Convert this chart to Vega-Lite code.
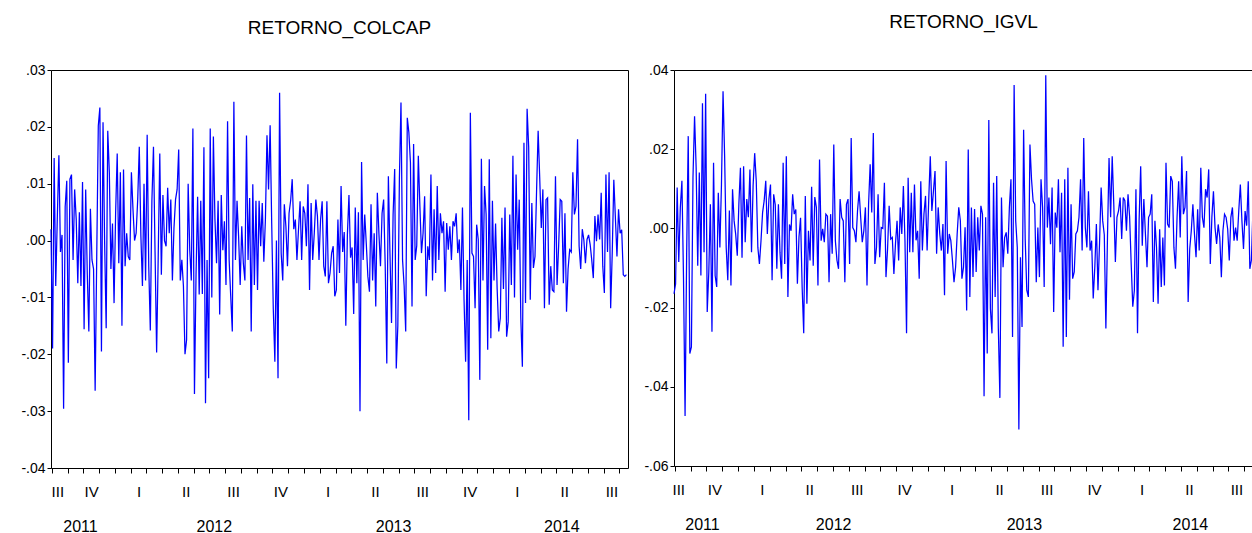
{
"$schema": "https://vega.github.io/schema/vega-lite/v6.json",
"padding": {"left": 0, "top": 12, "right": 0, "bottom": 0},
"background": "white",
"spacing": 0,
"config": {
 "view": {"stroke": "#000", "strokeWidth": 1},
 "font": "Liberation Sans",
 "axis": {"grid": false, "domain": false, "labelColor": "#000", "tickColor": "#000", "labelFont": "Liberation Sans", "title": null},
 "title": {"font": "Liberation Sans", "fontSize": 19, "fontWeight": "normal", "color": "#000"}
},
"data": {"values": [
{"i":0,"c":0.002,"g":-0.0165},{"i":1,"c":-0.019,"g":-0.014},{"i":2,"c":0.0145,"g":0.0103},{"i":3,"c":-0.008,"g":-0.0085},{"i":4,"c":0.004,"g":0.0052},{"i":5,"c":0.015,"g":0.012},{"i":6,"c":-0.002,"g":-0.0123},{"i":7,"c":0.001,"g":-0.0474},{"i":8,"c":-0.0296,"g":-0.0064},{"i":9,"c":0.006,"g":0.0233},
{"i":10,"c":0.0105,"g":-0.0316},{"i":11,"c":-0.0215,"g":-0.0299},{"i":12,"c":0.0108,"g":0.0128},{"i":13,"c":0.0116,"g":0.0283},{"i":14,"c":-0.0034,"g":0.0153},{"i":15,"c":0.009,"g":-0.0094},{"i":16,"c":0.0037,"g":0.0141},{"i":17,"c":-0.0075,"g":-0.0119},{"i":18,"c":0.005,"g":0.0316},{"i":19,"c":-0.008,"g":-0.006},
{"i":20,"c":0.0103,"g":0.034},{"i":21,"c":-0.0156,"g":-0.0211},{"i":22,"c":0.009,"g":-0.011},{"i":23,"c":-0.0057,"g":0.0061},{"i":24,"c":-0.016,"g":-0.0261},{"i":25,"c":0.0056,"g":0.0166},{"i":26,"c":-0.0034,"g":-0.0119},{"i":27,"c":-0.005,"g":-0.0148},{"i":28,"c":-0.0264,"g":0.009},{"i":29,"c":-0.003,"g":-0.0048},
{"i":30,"c":0.0202,"g":0.011},{"i":31,"c":0.0234,"g":0.0346},{"i":32,"c":-0.0195,"g":0.0182},{"i":33,"c":0.0208,"g":-0.0048},{"i":34,"c":0,"g":-0.0131},{"i":35,"c":-0.0154,"g":0.0045},{"i":36,"c":0.0193,"g":-0.0144},{"i":37,"c":0.012,"g":0.0099},{"i":38,"c":-0.005,"g":0.0019},{"i":39,"c":0.003,"g":-0.0015},
{"i":40,"c":-0.011,"g":-0.0069},{"i":41,"c":0.005,"g":0.0061},{"i":42,"c":0.0153,"g":0.0153},{"i":43,"c":-0.004,"g":-0.0074},{"i":44,"c":0.012,"g":0.0157},{"i":45,"c":-0.015,"g":-0.0035},{"i":46,"c":0.0125,"g":0.0074},{"i":47,"c":-0.0045,"g":0.0028},{"i":48,"c":0.0013,"g":0.0149},{"i":49,"c":-0.0028,"g":-0.006},
{"i":50,"c":-0.0034,"g":0.0107},{"i":51,"c":0.012,"g":0.019},{"i":52,"c":0.0055,"g":0.0119},{"i":53,"c":0,"g":-0.0048},{"i":54,"c":0.0013,"g":-0.009},{"i":55,"c":0.0072,"g":-0.0031},{"i":56,"c":0.0165,"g":0.004},{"i":57,"c":0.001,"g":0.007},{"i":58,"c":-0.008,"g":0.012},{"i":59,"c":0.01,"g":-0.0014},
{"i":60,"c":-0.007,"g":0.0074},{"i":61,"c":0.0186,"g":0.0111},{"i":62,"c":-0.0045,"g":-0.0131},{"i":63,"c":-0.0158,"g":0.0086},{"i":64,"c":0.007,"g":0.006},{"i":65,"c":0.0165,"g":-0.0102},{"i":66,"c":-0.002,"g":0.0061},{"i":67,"c":-0.0197,"g":-0.006},{"i":68,"c":-0.003,"g":-0.0127},{"i":69,"c":0.0153,"g":0.0166},
{"i":70,"c":-0.006,"g":-0.009},{"i":71,"c":0.008,"g":0.0182},{"i":72,"c":0,"g":-0.0173},{"i":73,"c":-0.001,"g":0.001},{"i":74,"c":0.0093,"g":-0.0006},{"i":75,"c":0.0013,"g":0.0086},{"i":76,"c":0.0072,"g":0.0036},{"i":77,"c":-0.007,"g":0.0048},{"i":78,"c":0.0022,"g":-0.014},{"i":79,"c":0.0072,"g":-0.0022},
{"i":80,"c":0.009,"g":0.0027},{"i":81,"c":0.016,"g":-0.0148},{"i":82,"c":-0.007,"g":-0.0265},{"i":83,"c":-0.0034,"g":0.0082},{"i":84,"c":-0.008,"g":-0.019},{"i":85,"c":-0.02,"g":-0.0006},{"i":86,"c":-0.0175,"g":-0.0081},{"i":87,"c":0.01,"g":0.0105},{"i":88,"c":-0.0016,"g":-0.0094},{"i":89,"c":-0.007,"g":0.0079},
{"i":90,"c":0.0197,"g":0.0053},{"i":91,"c":-0.027,"g":-0.0144},{"i":92,"c":-0.006,"g":0.0174},{"i":93,"c":0.0077,"g":-0.0031},{"i":94,"c":-0.0095,"g":-0.0001},{"i":95,"c":0.007,"g":-0.0035},{"i":96,"c":-0.0094,"g":0.0036},{"i":97,"c":0.0164,"g":0.0031},{"i":98,"c":-0.0286,"g":-0.0136},{"i":99,"c":-0.0034,"g":0.0036},
{"i":100,"c":-0.0242,"g":-0.0064},{"i":101,"c":0.0197,"g":0.0212},{"i":102,"c":-0.01,"g":-0.0031},{"i":103,"c":0.0183,"g":-0.008},{"i":104,"c":0.0037,"g":-0.0102},{"i":105,"c":-0.004,"g":0.0074},{"i":106,"c":0.007,"g":0.0028},{"i":107,"c":-0.013,"g":0.0019},{"i":108,"c":0.008,"g":-0.0136},{"i":109,"c":-0.0017,"g":0.0061},
{"i":110,"c":0.0034,"g":0.0074},{"i":111,"c":-0.0078,"g":-0.009},{"i":112,"c":0.021,"g":0.0228},{"i":113,"c":-0.0034,"g":0.0002},{"i":114,"c":-0.0098,"g":-0.0006},{"i":115,"c":-0.016,"g":-0.0035},{"i":116,"c":0.0244,"g":0.0044},{"i":117,"c":-0.0034,"g":0.0094},{"i":118,"c":0.007,"g":0.0028},{"i":119,"c":0.0007,"g":-0.0035},
{"i":120,"c":-0.0078,"g":-0.0006},{"i":121,"c":0.0025,"g":0.0053},{"i":122,"c":-0.004,"g":-0.0144},{"i":123,"c":-0.007,"g":0.0061},{"i":124,"c":0.0185,"g":0.0162},{"i":125,"c":-0.0034,"g":0.004},{"i":126,"c":0.0075,"g":0.0241},{"i":127,"c":-0.016,"g":-0.009},{"i":128,"c":0.0099,"g":-0.0048},{"i":129,"c":-0.0078,"g":0.0086},
{"i":130,"c":0.007,"g":-0.0073},{"i":131,"c":-0.0087,"g":0.0002},{"i":132,"c":0.007,"g":0},{"i":133,"c":-0.001,"g":0.0115},{"i":134,"c":0.0066,"g":-0.0123},{"i":135,"c":-0.0037,"g":-0.0052},{"i":136,"c":0.0037,"g":0.0057},{"i":137,"c":0.0185,"g":-0.0027},{"i":138,"c":0.009,"g":-0.0023},{"i":139,"c":0.0203,"g":-0.0115},
{"i":140,"c":0.003,"g":-0.0039},{"i":141,"c":-0.012,"g":0.0019},{"i":142,"c":-0.0213,"g":-0.0081},{"i":143,"c":0,"g":0.0053},{"i":144,"c":-0.0242,"g":-0.0014},{"i":145,"c":0.026,"g":0.0107},{"i":146,"c":-0.0022,"g":-0.0031},{"i":147,"c":-0.007,"g":-0.0265},{"i":148,"c":0.0064,"g":0.0128},{"i":149,"c":0.0025,"g":-0.006},
{"i":150,"c":-0.0045,"g":0.009},{"i":151,"c":0.0048,"g":-0.006},{"i":152,"c":0.007,"g":0.0111},{"i":153,"c":0.0108,"g":-0.003},{"i":154,"c":0.002,"g":-0.0006},{"i":155,"c":0.0037,"g":-0.0127},{"i":156,"c":-0.0034,"g":0.0119},{"i":157,"c":0.002,"g":-0.0056},{"i":158,"c":0.0069,"g":0.0036},{"i":159,"c":-0.0034,"g":0.0082},
{"i":160,"c":0.006,"g":-0.0056},{"i":161,"c":0.0048,"g":0.007},{"i":162,"c":-0.001,"g":0.0182},{"i":163,"c":0.0099,"g":0.0044},{"i":164,"c":-0.0087,"g":0.0094},{"i":165,"c":0.0066,"g":0.0145},{"i":166,"c":-0.0034,"g":-0.0064},{"i":167,"c":0.0013,"g":0.0053},{"i":168,"c":0.0072,"g":-0.0014},{"i":169,"c":0.0043,"g":-0.0056},
{"i":170,"c":-0.0034,"g":0.0011},{"i":171,"c":0.0037,"g":-0.0169},{"i":172,"c":0.0069,"g":0.017},{"i":173,"c":-0.0045,"g":-0.0064},{"i":174,"c":-0.0063,"g":-0.0014},{"i":175,"c":0.0069,"g":-0.0031},{"i":176,"c":-0.0075,"g":-0.008},{"i":177,"c":-0.0057,"g":-0.0136},{"i":178,"c":-0.0022,"g":-0.0098},{"i":179,"c":-0.001,"g":-0.0014},
{"i":180,"c":-0.0098,"g":0.0053},{"i":181,"c":-0.0087,"g":0.002},{"i":182,"c":0.0037,"g":-0.0127},{"i":183,"c":-0.0057,"g":-0.0098},{"i":184,"c":0.0096,"g":0.0003},{"i":185,"c":-0.002,"g":-0.0207},{"i":186,"c":0.0015,"g":0.0199},{"i":187,"c":-0.015,"g":-0.0173},{"i":188,"c":0.001,"g":0.0053},{"i":189,"c":0.008,"g":-0.0123},
{"i":190,"c":-0.003,"g":0.0049},{"i":191,"c":-0.0012,"g":-0.011},{"i":192,"c":-0.0129,"g":0.0028},{"i":193,"c":0.0058,"g":-0.0056},{"i":194,"c":-0.0075,"g":0.0057},{"i":195,"c":0.005,"g":0.0036},{"i":196,"c":-0.03,"g":-0.0424},{"i":197,"c":0.0138,"g":0.0028},{"i":198,"c":-0.0034,"g":-0.0316},{"i":199,"c":0.0046,"g":0.0274},
{"i":200,"c":-0.0006,"g":-0.0203},{"i":201,"c":-0.0063,"g":-0.0265},{"i":202,"c":-0.009,"g":0.0115},{"i":203,"c":0.0064,"g":-0.0173},{"i":204,"c":-0.007,"g":0.0132},{"i":205,"c":0.0013,"g":-0.0249},{"i":206,"c":-0.0116,"g":-0.0428},{"i":207,"c":0.0084,"g":0.0078},{"i":208,"c":0.0013,"g":-0.0098},{"i":209,"c":-0.0045,"g":-0.0023},
{"i":210,"c":0.0048,"g":-0.001},{"i":211,"c":0.0072,"g":-0.0064},{"i":212,"c":-0.0045,"g":0.0053},{"i":213,"c":-0.0216,"g":0.0124},{"i":214,"c":0.0113,"g":-0.0274},{"i":215,"c":-0.0022,"g":0.0362},{"i":216,"c":-0.0145,"g":0.0019},{"i":217,"c":0.0046,"g":-0.0048},{"i":218,"c":0.0126,"g":-0.0508},{"i":219,"c":-0.0225,"g":-0.0073},
{"i":220,"c":-0.015,"g":-0.0249},{"i":221,"c":0.011,"g":0.0249},{"i":222,"c":0.0243,"g":-0.0027},{"i":223,"c":-0.0034,"g":-0.0156},{"i":224,"c":-0.008,"g":-0.0173},{"i":225,"c":-0.016,"g":0.0212},{"i":226,"c":0.0216,"g":0.0124},{"i":227,"c":0.019,"g":0.0069},{"i":228,"c":0.0137,"g":0.0061},{"i":229,"c":-0.0116,"g":-0.0136},
{"i":230,"c":0.017,"g":0.0002},{"i":231,"c":-0.0034,"g":-0.0123},{"i":232,"c":-0.0009,"g":0.0124},{"i":233,"c":0.0149,"g":0.0053},{"i":234,"c":0.006,"g":-0.0148},{"i":235,"c":-0.0022,"g":0.0387},{"i":236,"c":0.0013,"g":0.0002},{"i":237,"c":0.0078,"g":0.0078},{"i":238,"c":-0.0098,"g":-0.004},{"i":239,"c":-0.001,"g":0.0103},
{"i":240,"c":-0.0034,"g":-0.0211},{"i":241,"c":0.0116,"g":0.004},{"i":242,"c":-0.007,"g":0.0002},{"i":243,"c":0.0055,"g":0.0124},{"i":244,"c":-0.0057,"g":-0.006},{"i":245,"c":0.0096,"g":0.009},{"i":246,"c":-0.0034,"g":-0.0299},{"i":247,"c":0.0048,"g":0.0124},{"i":248,"c":0.0013,"g":-0.0274},{"i":249,"c":0.0034,"g":0.0153},
{"i":250,"c":-0.009,"g":-0.018},{"i":251,"c":0.0031,"g":0.0061},{"i":252,"c":-0.0016,"g":-0.0127},{"i":253,"c":0.0025,"g":-0.011},{"i":254,"c":-0.0034,"g":-0.0014},{"i":255,"c":0.0034,"g":-0.0006},{"i":256,"c":0.0025,"g":0.0028},{"i":257,"c":0.0048,"g":0.0124},{"i":258,"c":-0.0022,"g":-0.0056},{"i":259,"c":0.0002,"g":0.0228},
{"i":260,"c":-0.0087,"g":0.0002},{"i":261,"c":0.0058,"g":-0.0048},{"i":262,"c":-0.0104,"g":0.0094},{"i":263,"c":-0.0213,"g":-0.0056},{"i":264,"c":-0.0034,"g":-0.0031},{"i":265,"c":-0.0316,"g":-0.0177},{"i":266,"c":0.0225,"g":-0.0098},{"i":267,"c":-0.0022,"g":0.0011},{"i":268,"c":-0.0028,"g":-0.0156},{"i":269,"c":-0.0119,"g":-0.0036},
{"i":270,"c":0.0028,"g":0.0103},{"i":271,"c":0.0002,"g":0.0019},{"i":272,"c":-0.0245,"g":-0.0016},{"i":273,"c":0.0144,"g":-0.0253},{"i":274,"c":-0.007,"g":-0.0025},{"i":275,"c":0.0096,"g":0.0178},{"i":276,"c":0.0046,"g":0.0028},{"i":277,"c":-0.0192,"g":0.0182},{"i":278,"c":0.0143,"g":0.006},{"i":279,"c":-0.0172,"g":-0.0085},
{"i":280,"c":0.007,"g":0.0028},{"i":281,"c":-0.007,"g":0.0044},{"i":282,"c":0.003,"g":0.0078},{"i":283,"c":-0.0085,"g":-0.0027},{"i":284,"c":-0.016,"g":0.0078},{"i":285,"c":-0.0136,"g":0.007},{"i":286,"c":0.004,"g":-0.0006},{"i":287,"c":-0.0085,"g":0.0086},{"i":288,"c":0.0058,"g":0.003},{"i":289,"c":-0.0169,"g":-0.009},
{"i":290,"c":-0.0143,"g":-0.0198},{"i":291,"c":0.0046,"g":-0.0157},{"i":292,"c":-0.0078,"g":0.0099},{"i":293,"c":0.0149,"g":-0.0265},{"i":294,"c":-0.01,"g":0.0019},{"i":295,"c":0.0116,"g":0.0157},{"i":296,"c":-0.0016,"g":-0.0044},{"i":297,"c":0.0072,"g":0.0074},{"i":298,"c":-0.0136,"g":-0.0014},{"i":299,"c":-0.0222,"g":-0.0098},
{"i":300,"c":0.0172,"g":0.0028},{"i":301,"c":-0.011,"g":0.0036},{"i":302,"c":0.0232,"g":0.0086},{"i":303,"c":0.0164,"g":-0.0186},{"i":304,"c":-0.0104,"g":0.0019},{"i":305,"c":0.0066,"g":-0.0048},{"i":306,"c":-0.0048,"g":-0.019},{"i":307,"c":-0.0028,"g":-0.0002},{"i":308,"c":0.0087,"g":-0.0148},{"i":309,"c":0.0193,"g":-0.0023},
{"i":310,"c":0.011,"g":-0.0144},{"i":311,"c":0.0022,"g":0.0166},{"i":312,"c":0.009,"g":0.0011},{"i":313,"c":-0.0119,"g":0.0002},{"i":314,"c":0.0072,"g":0.0132},{"i":315,"c":0.0075,"g":0.0119},{"i":316,"c":-0.0113,"g":-0.0048},{"i":317,"c":-0.0045,"g":-0.0102},{"i":318,"c":-0.0087,"g":0.0028},{"i":319,"c":-0.009,"g":0.0119},
{"i":320,"c":0.0113,"g":-0.0023},{"i":321,"c":-0.0078,"g":0.0182},{"i":322,"c":-0.001,"g":0.0036},{"i":323,"c":0.0072,"g":0.0053},{"i":324,"c":0.0069,"g":0.0145},{"i":325,"c":-0.0075,"g":-0.0186},{"i":326,"c":0.0048,"g":-0.0052},{"i":327,"c":-0.0125,"g":-0.0006},{"i":328,"c":-0.005,"g":0.0061},{"i":329,"c":-0.0016,"g":-0.0014},
{"i":330,"c":-0.002,"g":-0.0073},{"i":331,"c":0.012,"g":0.0048},{"i":332,"c":0.0046,"g":-0.0056},{"i":333,"c":0.006,"g":0.0153},{"i":334,"c":0.0178,"g":0.0028},{"i":335,"c":-0.001,"g":0.0002},{"i":336,"c":-0.005,"g":0.0099},{"i":337,"c":0.002,"g":0.0078},{"i":338,"c":0.0001,"g":0.0149},{"i":339,"c":-0.004,"g":-0.009},
{"i":340,"c":0.0002,"g":0.0028},{"i":341,"c":0.001,"g":0.0094},{"i":342,"c":-0.0007,"g":0.0002},{"i":343,"c":-0.0034,"g":-0.0039},{"i":344,"c":-0.0066,"g":0.001},{"i":345,"c":0.0043,"g":-0.0023},{"i":346,"c":-0.0001,"g":-0.0123},{"i":347,"c":0.0046,"g":-0.0006},{"i":348,"c":0.0002,"g":0.0036},{"i":349,"c":0.0084,"g":0.0028},
{"i":350,"c":-0.0045,"g":-0.0002},{"i":351,"c":-0.0092,"g":-0.0081},{"i":352,"c":0.0116,"g":0.0028},{"i":353,"c":-0.002,"g":0.0053},{"i":354,"c":0.012,"g":-0.0031},{"i":355,"c":-0.0119,"g":0.0002},{"i":356,"c":-0.0022,"g":-0.0031},{"i":357,"c":0.0107,"g":0.0044},{"i":358,"c":0.004,"g":0.0111},{"i":359,"c":-0.0028,"g":0.0019},
{"i":360,"c":0.0055,"g":-0.0052},{"i":361,"c":0.0013,"g":0.0044},{"i":362,"c":0.0019,"g":0.0007},{"i":363,"c":-0.006,"g":0.0119},{"i":364,"c":-0.0063,"g":-0.0102},{"i":365,"c":-0.006,"g":-0.008},{"i":366,"g":0.0053}
]},
"hconcat": [
 {
  "title": {"text": "RETORNO_COLCAP", "offset": 25},
  "width": 577,
  "height": 398,
  "encoding": {
   "y": {"field": "c", "type": "quantitative",
    "scale": {"domain": [-0.04, 0.03], "nice": false, "zero": false},
    "axis": {"values": [-0.04, -0.03, -0.02, -0.01, 0, 0.01, 0.02, 0.03], "labelExpr": "replace(replace(format(datum.value, '.2f'), '0.', '.'), '\u2212', '-')", "tickSize": 4, "labelPadding": 2, "labelFontSize": 14, "minExtent": 50, "maxExtent": 50, "labelFlush": false}}
  },
  "layer": [
   {"mark": {"type": "line", "color": "#0000FF", "strokeWidth": 1.25},
    "encoding": {"x": {"field": "i", "type": "quantitative", "scale": {"domain": [0, 366], "nice": false, "zero": false},
     "axis": {"orient": "bottom", "values": [0.5,10.5,20.5,30.5,40.5,50.5,60.5,70.5,80.5,90.5,100.5,110.5,120.5,130.5,140.5,150.5,160.5,170.5,180.5,190.5,200.5,210.5,220.5,230.5,240.5,250.5,260.5,270.5,280.5,290.5,300.5,310.5,320.5,330.5,340.5,350.5,360.5], "labels": false, "ticks": true, "tickSize": 5}}}},
   {"mark": {"type": "line", "strokeOpacity": 0},
    "encoding": {"x": {"field": "i", "type": "quantitative",
     "axis": {"orient": "bottom", "values": [4,25.5,55.5,85.5,115.5,145.5,175.5,205.5,235.5,265.5,295.5,325.5,355.5], "ticks": false, "labelPadding": 16, "labelFontSize": 15, "labelFlush": false, "labelOverlap": false, "labelExpr": "datum.value < 10 ? 'III' : ['IV','I','II','III'][round((datum.value - 25.5) / 30) % 4]"}}}},
   {"mark": {"type": "line", "strokeOpacity": 0},
    "encoding": {"x": {"field": "i", "type": "quantitative",
     "axis": {"orient": "bottom", "values": [18.4,103.3,217,323.7], "ticks": false, "labelPadding": 50, "labelFontSize": 16, "labelFlush": false, "labelOverlap": false, "labelExpr": "datum.value < 60 ? '2011' : datum.value < 160 ? '2012' : datum.value < 270 ? '2013' : '2014'"}}}}
  ],
  "resolve": {"axis": {"x": "independent"}}
 },
 {
  "title": {"text": "RETORNO_IGVL", "offset": 31},
  "width": 579,
  "height": 396,
  "encoding": {
   "y": {"field": "g", "type": "quantitative",
    "scale": {"domain": [-0.06, 0.04], "nice": false, "zero": false},
    "axis": {"values": [-0.06, -0.04, -0.02, 0, 0.02, 0.04], "labelExpr": "replace(replace(format(datum.value, '.2f'), '0.', '.'), '\u2212', '-')", "tickSize": 4, "labelPadding": 2, "labelFontSize": 14, "minExtent": 43, "maxExtent": 43, "labelFlush": false}}
  },
  "layer": [
   {"mark": {"type": "line", "color": "#0000FF", "strokeWidth": 1.25},
    "encoding": {"x": {"field": "i", "type": "quantitative", "scale": {"domain": [0, 366], "nice": false, "zero": false},
     "axis": {"orient": "bottom", "values": [0.5,10.5,20.5,30.5,40.5,50.5,60.5,70.5,80.5,90.5,100.5,110.5,120.5,130.5,140.5,150.5,160.5,170.5,180.5,190.5,200.5,210.5,220.5,230.5,240.5,250.5,260.5,270.5,280.5,290.5,300.5,310.5,320.5,330.5,340.5,350.5,360.5], "labels": false, "ticks": true, "tickSize": 5}}}},
   {"mark": {"type": "line", "strokeOpacity": 0},
    "encoding": {"x": {"field": "i", "type": "quantitative",
     "axis": {"orient": "bottom", "values": [2.7,25.5,55.5,85.5,115.5,145.5,175.5,205.5,235.5,265.5,295.5,325.5,355.5], "ticks": false, "labelPadding": 16, "labelFontSize": 15, "labelFlush": false, "labelOverlap": false, "labelExpr": "datum.value < 10 ? 'III' : ['IV','I','II','III'][round((datum.value - 25.5) / 30) % 4]"}}}},
   {"mark": {"type": "line", "strokeOpacity": 0},
    "encoding": {"x": {"field": "i", "type": "quantitative",
     "axis": {"orient": "bottom", "values": [17.7,100.6,221.2,326.1], "ticks": false, "labelPadding": 50, "labelFontSize": 16, "labelFlush": false, "labelOverlap": false, "labelExpr": "datum.value < 60 ? '2011' : datum.value < 160 ? '2012' : datum.value < 270 ? '2013' : '2014'"}}}}
  ],
  "resolve": {"axis": {"x": "independent"}}
 }
]
}
